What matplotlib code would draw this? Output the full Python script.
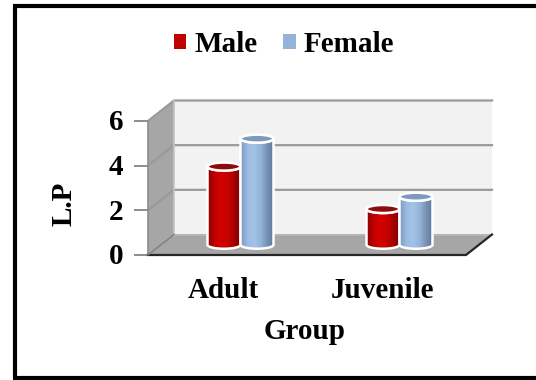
import numpy as np
import matplotlib
matplotlib.use("Agg")
import matplotlib.pyplot as plt
from matplotlib.colors import LinearSegmentedColormap
from matplotlib.lines import Line2D
from matplotlib.patches import Polygon, Patch
from matplotlib.transforms import ScaledTranslation

groups = ["Adult", "Juvenile"]
male = [3.5, 1.6]
female = [4.75, 2.15]
y_ticks = [0, 2, 4, 6]
series_names = ["Male", "Female"]

W, H = 536, 380
plt.rcParams["font.family"] = ["Liberation Serif", "DejaVu Serif"]
plt.rcParams["font.weight"] = "bold"

fig = plt.figure(figsize=(W / 100, H / 100), dpi=100, facecolor="white")
# Front plane of the 3-D box, placed in pixels
left, right, top, bottom = 148, 466, 121, 255
ax = fig.add_axes([left / W, 1 - bottom / H, (right - left) / W, (bottom - top) / H])
ax.set_xlim(-0.5, 1.5)
ax.set_ylim(0, 6)
ax.patch.set_visible(False)

# Depth of the box, expressed in data units
ppx = (right - left) / 2
ppy = (bottom - top) / 6
dx, dy = 26 / ppx, 20.5 / ppy
x0, x1 = -0.5, 1.5

# Walls and floor
ax.add_patch(Polygon([(x0 + dx, dy), (x1 + dx, dy), (x1 + dx, 6 + dy), (x0 + dx, 6 + dy)],
                     fc="#f2f2f2", ec="none", clip_on=False, zorder=1))
ax.add_patch(Polygon([(x0, 0), (x0 + dx, dy), (x0 + dx, 6 + dy), (x0, 6)],
                     fc="#a6a6a6", ec="none", clip_on=False, zorder=1))
ax.add_patch(Polygon([(x0, 0), (x1, 0), (x1 + dx, dy), (x0 + dx, dy)],
                     fc="#a6a6a6", ec="none", clip_on=False, zorder=1))

# Gridlines run along the side wall and then across the back wall
for v in y_ticks[1:]:
    ax.plot([x0, x0 + dx, x1 + dx], [v, v + dy, v + dy], color="#9a9a9a", lw=1.6,
            clip_on=False, zorder=2, solid_joinstyle="miter")
ax.plot([x0 + dx, x1 + dx], [dy, dy], color="#b5b5b5", lw=1.2, clip_on=False, zorder=2)
ax.plot([x0 + dx, x0 + dx], [dy, 6 + dy], color="#c4c4c4", lw=1.2, clip_on=False, zorder=2)
# Dark outline of the floor front and right edge
ax.plot([x0, x1, x1 + dx], [0, 0, dy], color="#262626", lw=1.6, clip_on=False, zorder=3)
ax.plot([x0, x0 + dx], [0, dy], color="#7f7f7f", lw=1.0, clip_on=False, zorder=3)

red_cmap = LinearSegmentedColormap.from_list(
    "red_cyl", ["#8e0000", "#c00000", "#d40000", "#c80000", "#a80000", "#7c0000"])
blue_cmap = LinearSegmentedColormap.from_list(
    "blue_cyl", ["#7f9cc0", "#9dbce2", "#a3c2e8", "#95b3d7", "#7792b4", "#5d7899"])


def cylinder(center, value, width, cmap, cap_color, z):
    """Shaded cylinder standing midway through the box depth."""
    xc = center + dx / 2
    base = dy / 2
    ry = 4.0 / ppy
    t = np.linspace(0, np.pi, 40)
    xs = xc - (width / 2) * np.cos(t)
    # Lower rim, then upper rim back along the far side
    low = np.column_stack([xs, base - ry * np.sin(t)])
    upp = np.column_stack([xs[::-1], base + value - ry * np.sin(t[::-1])])
    body = np.vstack([low, upp])
    grad = np.linspace(0, 1, 64).reshape(1, -1)
    im = ax.imshow(grad, cmap=cmap, aspect="auto", zorder=z,
                   extent=(xc - width / 2, xc + width / 2, base - ry, base + value))
    ax.add_patch(Polygon(body, fc="none", ec="white", lw=1.8, zorder=z + 0.2, clip_on=False))
    im.set_clip_path(Polygon(body, transform=ax.transData))
    # Elliptical top
    t2 = np.linspace(0, 2 * np.pi, 80)
    cap = np.column_stack([xc + (width / 2) * np.cos(t2), base + value + ry * np.sin(t2)])
    ax.add_patch(Polygon(cap, fc=cap_color, ec="white", lw=1.8, zorder=z + 0.3, clip_on=False))


bar_w = 33 / ppx
for i in range(len(groups)):
    cylinder(i - bar_w / 2, male[i], bar_w, red_cmap, "#8f0a0a", 5)
    cylinder(i + bar_w / 2, female[i], bar_w, blue_cmap, "#7e9abb", 6)
ax.set_xlim(-0.5, 1.5)
ax.set_ylim(0, 6)

# Axes furniture
for name in ("top", "right", "bottom"):
    ax.spines[name].set_visible(False)
ax.spines["left"].set_color("#8c8c8c")
ax.spines["left"].set_linewidth(1.2)
ax.set_yticks(y_ticks)
ax.set_xticks(range(len(groups)))
ax.set_xticklabels(groups)
ax.tick_params(axis="x", length=0, pad=16, labelsize=21)
ax.tick_params(axis="y", length=10, width=1.4, color="#8c8c8c", pad=8, labelsize=21)
nudge_x = ScaledTranslation(-4 / 100, 0, fig.dpi_scale_trans)
nudge_y = ScaledTranslation(0, 1 / 100, fig.dpi_scale_trans)
for lab in ax.get_xticklabels():
    lab.set_transform(lab.get_transform() + nudge_x)
for lab in ax.get_yticklabels():
    lab.set_transform(lab.get_transform() + nudge_y)
ax.set_xlabel("Group", fontsize=21, fontweight="bold")
ax.xaxis.set_label_coords((305 - left) / (right - left), (bottom - 318) / (bottom - top))
ax.set_ylabel("L.P", fontsize=21, fontweight="bold")
ax.yaxis.set_label_coords((78 - left) / (right - left), (bottom - 204) / (bottom - top))

handles = [Patch(fc="#c00000", ec="none", label=series_names[0]),
           Patch(fc="#95b3d7", ec="none", label=series_names[1])]
fig.legend(handles=handles, loc="center", bbox_to_anchor=(284 / W, 1 - 44 / H), ncol=2,
           frameon=False, handlelength=0.42, handleheight=0.42,
           handletextpad=0.28, columnspacing=0.9, borderpad=0,
           prop={"family": "Liberation Serif", "weight": "bold", "size": 21})

# Frame on the left, top and bottom of the figure
for xs, ys in [((15, 15), (6, 378)), ((13, W), (6, 6)), ((13, W), (378, 378))]:
    fig.add_artist(Line2D([x / W for x in xs], [1 - y / H for y in ys], color="black",
                          lw=3.0, solid_capstyle="butt", transform=fig.transFigure))

fig.savefig("out.png", dpi=100, facecolor="white")
